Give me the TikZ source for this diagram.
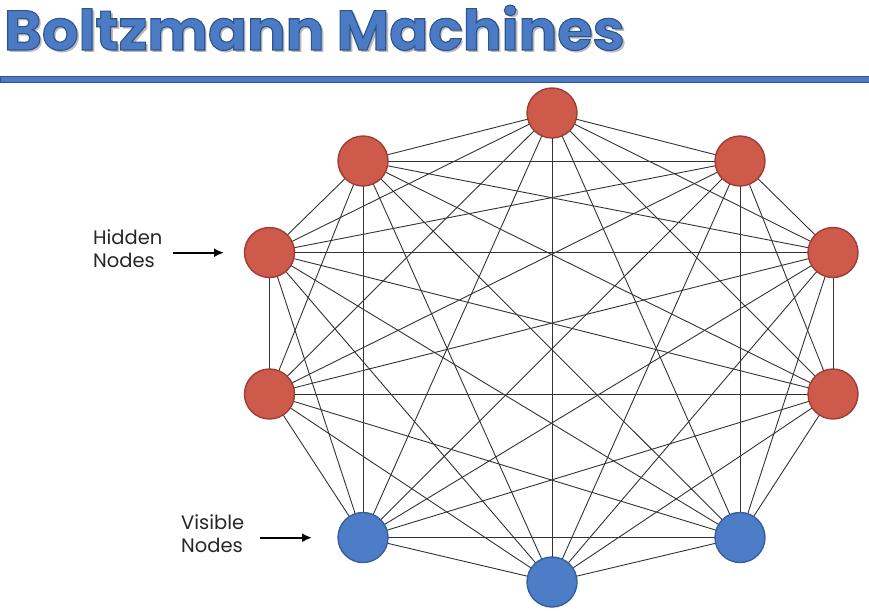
\documentclass[tikz,border=0pt]{standalone}
\usepackage{fontspec}
\setmainfont{Poppins}
\newfontfamily\headfont{Poppins}[UprightFont=* Bold]
\usetikzlibrary{arrows.meta,backgrounds}

\definecolor{hidfill}{HTML}{CD5A4B}
\definecolor{hidedge}{HTML}{9E3D34}
\definecolor{visfill}{HTML}{4C7DC6}
\definecolor{visedge}{HTML}{365F9C}
\definecolor{headblue}{HTML}{4B7BC4}
\definecolor{headdark}{HTML}{2E5590}
\definecolor{wire}{HTML}{333333}

\tikzset{
  unit/.style={circle, inner sep=0, minimum size=50pt, line width=1.4pt},
  hidden/.style={unit, fill=hidfill, draw=hidedge},
  visible/.style={unit, fill=visfill, draw=visedge},
  link/.style={draw=wire, line width=0.9pt},
  tag/.style={align=left, inner sep=0, font=\fontsize{19.5}{23}\selectfont, text=black!85},
  pointer/.style={line width=2pt, -{Latex[length=10pt,width=9pt]}},
}

% heading text: filled and stroked with a darker rim
\newcommand{\headtext}{\headfont\fontsize{56}{56}\selectfont
  \special{pdf:literal direct 2 Tr 1.1 w 0.18 0.33 0.565 RG}%
  Boltzmann Machines%
  \special{pdf:literal direct 0 Tr}}
\newcommand{\headplain}{\headfont\fontsize{56}{56}\selectfont Boltzmann Machines}

\begin{document}
\begin{tikzpicture}[x=1pt,y=-1pt]
\useasboundingbox (0,0) rectangle (869,610);

% heading with soft shadow
\node[anchor=base west, inner sep=0, text=black!28, xscale=1.025] (headshadow) at (6.5,52.5) {\headplain};
\node[anchor=base west, inner sep=0, text=headblue, xscale=1.025] (head) at (4,50) {\headtext};

% rule under the heading
\fill[headblue, draw=headdark, line width=1pt] (0,76.5) rectangle (869,82.5);

% units of the network
\node[hidden]  (n1)  at (552,113)   {};
\node[hidden]  (n2)  at (740,161)   {};
\node[hidden]  (n3)  at (833,252.5) {};
\node[hidden]  (n4)  at (833,394)   {};
\node[visible] (n5)  at (740,537.5) {};
\node[visible] (n6)  at (552,582)   {};
\node[visible] (n7)  at (363,537.5) {};
\node[hidden]  (n8)  at (269.5,394) {};
\node[hidden]  (n9)  at (269.5,252.5) {};
\node[hidden]  (n10) at (363,161)   {};

% every pair of units is connected
\begin{scope}[on background layer]
  \foreach \i [evaluate=\i as \s using int(\i+1)] in {1,...,9}
    \foreach \j in {\s,...,10}
      \draw[link] (n\i.center) -- (n\j.center);
\end{scope}

% labels
\node[tag, anchor=north west] (hidlabel) at (93,229) {Hidden\\Nodes};
\coordinate (hidtail) at (173,252.7);
\coordinate (hidhead) at (224,252.7);
\draw[pointer] (hidtail) -- (hidhead);

\node[tag, anchor=north west] (vislabel) at (181,514) {Visible\\Nodes};
\coordinate (vistail) at (260,537.7);
\coordinate (vishead) at (312,537.7);
\draw[pointer] (vistail) -- (vishead);
\end{tikzpicture}
\end{document}
